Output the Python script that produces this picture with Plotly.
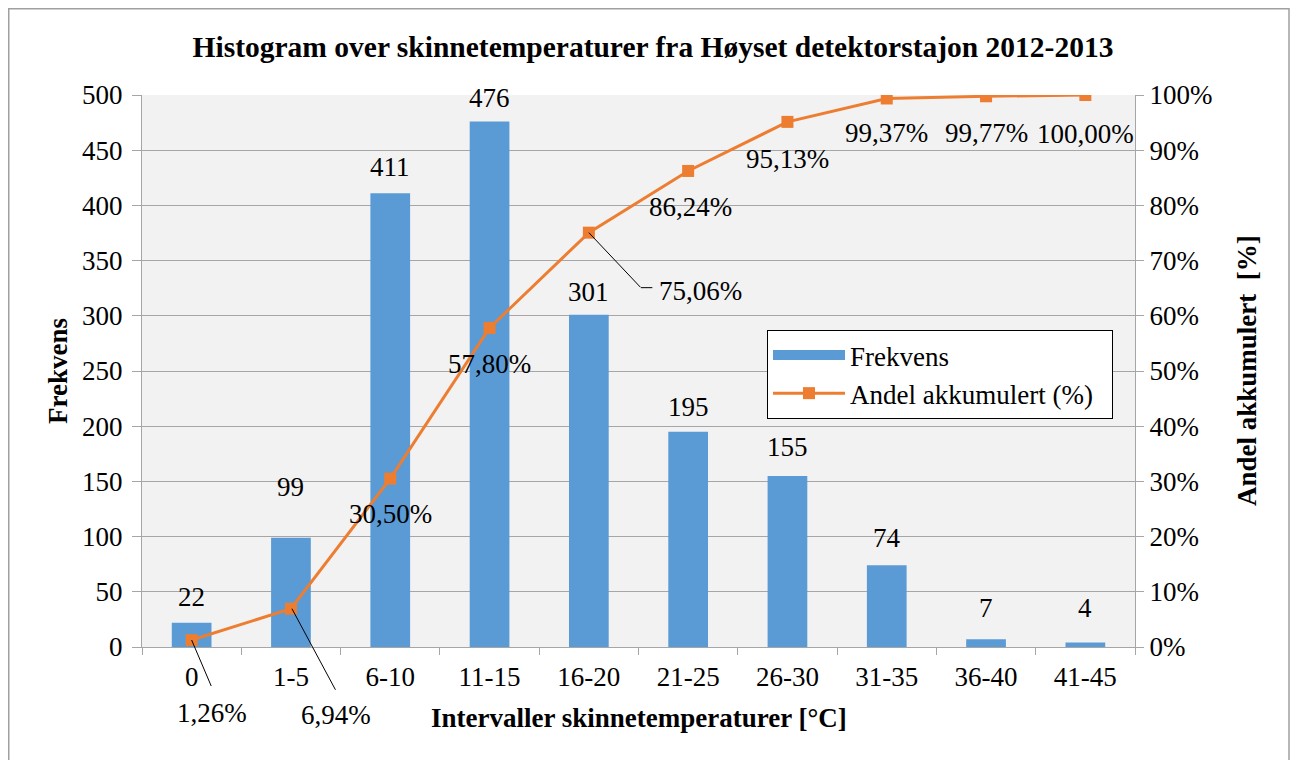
import plotly.graph_objects as go

categories = ["0", "1-5", "6-10", "11-15", "16-20", "21-25", "26-30", "31-35", "36-40", "41-45"]
frekvens = [22, 99, 411, 476, 301, 195, 155, 74, 7, 4]
akkumulert = [1.26, 6.94, 30.50, 57.80, 75.06, 86.24, 95.13, 99.37, 99.77, 100.00]
y_ticks = list(range(0, 501, 50))
y2_ticks = list(range(0, 101, 10))
y2_ticktext = [f"{v}%" for v in y2_ticks]

FONT = "Liberation Serif, Times New Roman, serif"
BLUE = "#5B9BD5"
ORANGE = "#ED7D31"
GRID = "#A6A6A6"
FS = 27

# figure sits at an 8px page offset (body margin)
W, H = 1290, 752
L, R, T, B = 134, 163, 87, 113
PW, PH = W - L - R, H - T - B

fig = go.Figure()
fig.add_trace(go.Bar(
    x=categories, y=frekvens, name="Frekvens", showlegend=False,
    marker=dict(color=BLUE, line=dict(width=0)),
))
fig.add_trace(go.Scatter(
    x=categories, y=akkumulert, name="Andel akkumulert (%)\u00a0\u00a0", yaxis="y2",
    mode="lines+markers",
    line=dict(color=ORANGE, width=3),
    marker=dict(symbol="square", size=12, color=ORANGE),
))
# legend entry drawn as a wide blue block (like the Excel legend key)
fig.add_trace(go.Scatter(
    x=[None], y=[None], name="Frekvens", mode="lines", xaxis="x", yaxis="y",
    line=dict(color=BLUE, width=12), hoverinfo="skip", legendrank=1,
))

# bar value labels (pixel offsets above bar tops)
bar_label_shift = [26, 51, 26, 24, 23, 25, 29, 27, 31, 35]
for i, v in enumerate(frekvens):
    fig.add_annotation(x=i, y=v, yref="y", text=str(v), showarrow=False,
                       yshift=bar_label_shift[i], font=dict(family=FONT, size=FS, color="black"))

# cumulative labels (pixel offsets from points)
line_label_shift = [(20, -73), (45, -106), (0, -35), (0, -36), (112, -58),
                    (2, -36), (0, -37), (0, -35), (0, -37), (0, -39)]
for i, v in enumerate(akkumulert):
    dx, dy = line_label_shift[i]
    txt = f"{v:.2f}%".replace(".", ",")
    fig.add_annotation(x=i, y=v, yref="y2", text=txt, showarrow=False,
                       xshift=dx, yshift=dy, font=dict(family=FONT, size=FS, color="black"))

# leader lines: (point index, shift of head, tail offset) in pixels
leaders = [(0, (0, 0), (20, 47)), (1, (1, 0), (44, 82)), (4, (0, 0), (52, 55)), (4, (52, -55), (12, 0))]
for i, (sx, sy), (ax, ay) in leaders:
    fig.add_annotation(x=i, y=akkumulert[i], yref="y2", text=" ", showarrow=True,
                       arrowhead=0, arrowwidth=1, arrowcolor="black", standoff=0, startstandoff=0,
                       xshift=sx, yshift=sy, ax=ax, ay=ay, font=dict(size=1), borderpad=0)

# axis titles
fig.add_annotation(xref="paper", yref="paper", x=0.5, y=-71 / PH, yanchor="middle",
                   text="<b>Intervaller skinnetemperaturer [°C]</b>", showarrow=False,
                   font=dict(family=FONT, size=FS, color="black"))
fig.add_annotation(xref="paper", yref="paper", x=-84 / PW, y=0.5, xanchor="center",
                   text="<b>Frekvens</b>", textangle=-90, showarrow=False,
                   font=dict(family=FONT, size=FS, color="black"))
fig.add_annotation(xref="paper", yref="paper", x=1 + 112 / PW, y=0.5, xanchor="center",
                   text="<b>Andel akkumulert  [%]</b>", textangle=-90, showarrow=False,
                   font=dict(family=FONT, size=FS, color="black"))

# outer chart border
fig.add_shape(type="rect", xref="paper", yref="paper",
              x0=(0.75 - L) / PW, x1=(1281 - L) / PW,
              y0=(H - B - 780) / PH, y1=(H - B - 0.75) / PH,
              line=dict(color="#A0A0A0", width=1.5), fillcolor="rgba(0,0,0,0)", layer="below")

fig.update_layout(
    width=W, height=H,
    margin=dict(l=L, r=R, t=T, b=B, autoexpand=False),
    paper_bgcolor="white", plot_bgcolor="#F2F2F2",
    font=dict(family=FONT, size=FS, color="black"),
    title=dict(text="<b>Histogram over skinnetemperaturer fra Høyset detektorstajon 2012-2013</b>",
               x=0.5, xanchor="center", y=1 - 39 / H, yanchor="middle",
               font=dict(family=FONT, size=29.5, color="black")),
    bargap=0.6,
    showlegend=True,
    legend=dict(x=(759 - L) / PW, y=(H - B - 322) / PH, xanchor="left", yanchor="top",
                bgcolor="white", bordercolor="black", borderwidth=1,
                font=dict(family=FONT, size=FS, color="black"),
                itemwidth=72),
    xaxis=dict(
        type="category", range=[-0.5, len(categories) - 0.5], autorange=False,
        showgrid=False, showline=True, linecolor=GRID, linewidth=1,
        ticks="outside", tickson="boundaries", ticklen=7, tickcolor=GRID,
        tickfont=dict(family=FONT, size=FS), ticklabelstandoff=6, automargin=False,
    ),
    yaxis=dict(
        range=[0, 500], tickvals=y_ticks, showgrid=True, gridcolor=GRID, gridwidth=1,
        showline=True, linecolor=GRID, linewidth=1, ticks="outside", ticklen=9, tickcolor=GRID,
        tickfont=dict(family=FONT, size=FS), zeroline=False, ticklabelstandoff=4, automargin=False,
    ),
    yaxis2=dict(
        range=[0, 100], tickvals=y2_ticks, ticktext=y2_ticktext, overlaying="y", side="right",
        showgrid=False, showline=True, linecolor=GRID, linewidth=1, ticks="outside", ticklen=8,
        tickcolor=GRID, tickfont=dict(family=FONT, size=FS), zeroline=False, automargin=False,
    ),
)

fig.write_html("out.html")
